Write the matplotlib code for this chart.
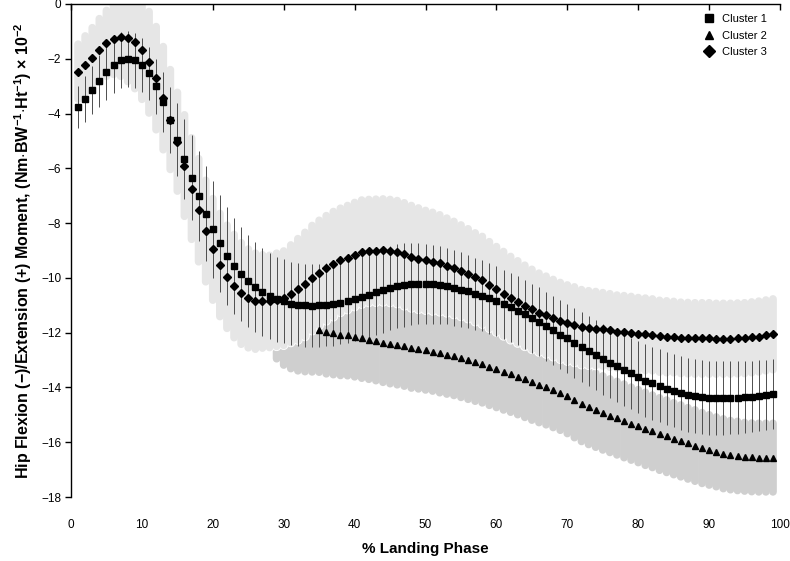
import numpy as np
import matplotlib
matplotlib.use("Agg")
import matplotlib.pyplot as plt

plt.rcParams['font.family'] = ['Liberation Sans', 'DejaVu Sans']
plt.rcParams['mathtext.fontset'] = 'custom'
plt.rcParams['mathtext.rm'] = 'Liberation Sans:bold'
plt.rcParams['mathtext.bf'] = 'Liberation Sans:bold'
plt.rcParams['mathtext.default'] = 'bf'

# ---------------- data ----------------
x13 = list(range(1, 100))          # % landing phase for clusters 1 and 3
x2_band = list(range(29, 100))     # cluster 2 SD band (partly hidden behind cluster 3 band)
x2 = list(range(35, 100))          # visible cluster 2 means

cluster1_mean = [
    -3.76, -3.47, -3.14, -2.80, -2.50, -2.23, -2.05, -2.00, -2.06, -2.23,
    -2.53, -3.01, -3.58, -4.25, -4.95, -5.66, -6.35, -7.02, -7.65, -8.23,
    -8.74, -9.21, -9.57, -9.85, -10.10, -10.34, -10.52, -10.65, -10.78, -10.85,
    -10.94, -10.98, -11.00, -11.01, -11.00, -10.98, -10.96, -10.90, -10.83, -10.76,
    -10.69, -10.61, -10.53, -10.46, -10.37, -10.31, -10.26, -10.23, -10.21, -10.21,
    -10.23, -10.25, -10.30, -10.36, -10.43, -10.49, -10.58, -10.65, -10.75, -10.85,
    -10.97, -11.08, -11.20, -11.33, -11.47, -11.60, -11.76, -11.91, -12.07, -12.21,
    -12.37, -12.53, -12.68, -12.82, -12.97, -13.10, -13.22, -13.36, -13.49, -13.63,
    -13.75, -13.85, -13.94, -14.04, -14.12, -14.20, -14.26, -14.30, -14.34, -14.37,
    -14.38, -14.38, -14.37, -14.37, -14.35, -14.33, -14.30, -14.28, -14.25]
cluster1_sd = [
    0.78, 0.85, 0.89, 0.95, 1.00, 1.02, 1.03, 1.02, 1.00, 0.98,
    0.97, 1.00, 1.08, 1.20, 1.32, 1.45, 1.55, 1.65, 1.72, 1.76,
    1.78, 1.78, 1.76, 1.72, 1.68, 1.64, 1.60, 1.57, 1.55, 1.53,
    1.52, 1.52, 1.52, 1.52, 1.52, 1.52, 1.53, 1.53, 1.54, 1.54,
    1.55, 1.55, 1.55, 1.55, 1.54, 1.53, 1.52, 1.50, 1.48, 1.46,
    1.44, 1.42, 1.40, 1.38, 1.36, 1.34, 1.32, 1.30, 1.29, 1.28,
    1.27, 1.27, 1.26, 1.26, 1.26, 1.26, 1.26, 1.26, 1.26, 1.26,
    1.27, 1.27, 1.28, 1.28, 1.29, 1.29, 1.30, 1.30, 1.31, 1.31,
    1.32, 1.32, 1.33, 1.33, 1.34, 1.34, 1.35, 1.35, 1.35, 1.35,
    1.35, 1.34, 1.33, 1.32, 1.31, 1.30, 1.29, 1.28, 1.28]

# cluster 2: x = 29..99 (means at 29-34 lie under the cluster 3 band)
cluster2_mean = [
    -12.00, -11.98, -11.96, -11.94, -11.92, -11.90,
    -11.89, -11.97, -12.02, -12.07, -12.10, -12.15, -12.21, -12.25, -12.30,
    -12.36, -12.41, -12.45, -12.50, -12.57, -12.60, -12.64, -12.69, -12.75, -12.80,
    -12.86, -12.93, -13.01, -13.08, -13.15, -13.24, -13.33, -13.42, -13.50, -13.60,
    -13.70, -13.81, -13.90, -13.99, -14.09, -14.20, -14.32, -14.47,
    -14.62, -14.73, -14.83, -14.93, -15.03, -15.12, -15.22, -15.32, -15.41, -15.51,
    -15.60, -15.70, -15.78, -15.87, -15.95, -16.04, -16.12, -16.21, -16.28, -16.35,
    -16.42, -16.47, -16.50, -16.53, -16.55, -16.56, -16.56, -16.56]
cluster2_sd = [
    0.95, 1.20, 1.35, 1.45, 1.50, 1.53,
    1.55, 1.53, 1.51, 1.49, 1.47, 1.46, 1.45, 1.45, 1.45,
    1.45, 1.45, 1.45, 1.45, 1.45, 1.45, 1.45, 1.44, 1.44, 1.44,
    1.43, 1.43, 1.42, 1.42, 1.41, 1.41, 1.40, 1.40, 1.40, 1.39,
    1.39, 1.38, 1.38, 1.37, 1.37, 1.36, 1.36, 1.36,
    1.35, 1.35, 1.35, 1.35, 1.34, 1.34, 1.34, 1.33, 1.33, 1.33,
    1.32, 1.32, 1.32, 1.31, 1.31, 1.30, 1.30, 1.29, 1.28, 1.27,
    1.27, 1.26, 1.26, 1.25, 1.25, 1.25, 1.25, 1.25]

cluster3_mean = [
    -2.47, -2.22, -1.97, -1.69, -1.44, -1.27, -1.19, -1.23, -1.39, -1.68,
    -2.13, -2.71, -3.44, -4.22, -5.03, -5.90, -6.74, -7.53, -8.29, -8.96,
    -9.53, -9.96, -10.30, -10.57, -10.75, -10.85, -10.86, -10.86, -10.80, -10.74,
    -10.58, -10.42, -10.24, -10.01, -9.82, -9.65, -9.50, -9.36, -9.26, -9.15,
    -9.06, -9.02, -9.01, -9.00, -9.02, -9.06, -9.14, -9.23, -9.30, -9.36,
    -9.41, -9.47, -9.55, -9.64, -9.74, -9.85, -9.98, -10.09, -10.26, -10.42,
    -10.58, -10.74, -10.88, -11.02, -11.15, -11.27, -11.36, -11.47, -11.57, -11.65,
    -11.71, -11.80, -11.83, -11.85, -11.88, -11.92, -11.96, -11.98, -12.00, -12.04,
    -12.06, -12.08, -12.13, -12.15, -12.16, -12.19, -12.20, -12.21, -12.21, -12.21,
    -12.22, -12.22, -12.22, -12.21, -12.20, -12.17, -12.14, -12.10, -12.06]
cluster3_sd = [
    1.00, 1.05, 1.10, 1.15, 1.20, 1.30, 1.45, 1.60, 1.70, 1.80,
    1.85, 1.88, 1.88, 1.82, 1.80, 1.85, 1.85, 1.88, 1.85, 1.85,
    1.88, 1.88, 1.88, 1.85, 1.80, 1.75, 1.70, 1.68, 1.70, 1.72,
    1.78, 1.85, 1.90, 1.92, 1.92, 1.92, 1.92, 1.90, 1.90, 1.90,
    1.90, 1.88, 1.88, 1.88, 1.88, 1.88, 1.88, 1.87, 1.85, 1.82,
    1.80, 1.77, 1.73, 1.70, 1.67, 1.64, 1.62, 1.60, 1.58, 1.56,
    1.54, 1.52, 1.50, 1.48, 1.46, 1.44, 1.42, 1.41, 1.40, 1.39,
    1.38, 1.37, 1.36, 1.35, 1.34, 1.34, 1.33, 1.33, 1.32, 1.32,
    1.32, 1.31, 1.31, 1.31, 1.30, 1.30, 1.30, 1.30, 1.30, 1.30,
    1.29, 1.29, 1.29, 1.29, 1.29, 1.29, 1.29, 1.29, 1.29]

legend_labels = ["Cluster 1", "Cluster 2", "Cluster 3"]
x_ticks = [0, 10, 20, 30, 40, 50, 60, 70, 80, 90, 100]
y_ticks = [0, -2, -4, -6, -8, -10, -12, -14, -16, -18]

# ---------------- figure ----------------
fig = plt.figure(figsize=(7.9, 5.61), dpi=100)
ax = fig.add_axes([0.0899, 0.114, 0.8975, 0.879])

c1m, c1s = np.array(cluster1_mean), np.array(cluster1_sd)
c2m, c2s = np.array(cluster2_mean), np.array(cluster2_sd)
c3m, c3s = np.array(cluster3_mean), np.array(cluster3_sd)

band_w = 5.6  # points
# cluster 2 band (darker grey) underneath
ax.vlines(x2_band, c2m - c2s, c2m + c2s, colors='#cfcfcf', linewidth=band_w,
          capstyle='round', zorder=1, snap=False)
# cluster 3 band (light grey) with thin white rim on top
ax.vlines(x13, c3m - c3s, c3m + c3s, colors='white', linewidth=band_w + 1.3,
          capstyle='round', zorder=2, snap=False)
ax.vlines(x13, c3m - c3s, c3m + c3s, colors='#e6e6e6', linewidth=band_w,
          capstyle='round', zorder=2.5, snap=False)
# cluster 1 thin SD lines
ax.vlines(x13, c1m - c1s, c1m + c1s, colors='#4d4d4d', linewidth=0.7, zorder=3)

ax.plot(x13, cluster1_mean, linestyle='none', marker='s', ms=3.7, color='black',
        label=legend_labels[0], zorder=5)
ax.plot(x2, cluster2_mean[6:], linestyle='none', marker='^', ms=4.2, color='black',
        label=legend_labels[1], zorder=5)
ax.plot(x13, cluster3_mean, linestyle='none', marker='D', ms=3.8, color='black',
        label=legend_labels[2], zorder=5)

ax.set_xlim(0, 100)
ax.set_ylim(-18, 0)
ax.set_xticks(x_ticks)
ax.set_yticks(y_ticks)
ax.set_yticklabels([('\u2212%d' % abs(v)) if v < 0 else '%d' % v for v in y_ticks])

for s in ['bottom', 'right']:
    ax.spines[s].set_visible(False)
for s in ['top', 'left']:
    ax.spines[s].set_linewidth(1.0)
    ax.spines[s].set_zorder(6)

ax.tick_params(axis='x', top=True, bottom=False, labeltop=False, labelbottom=True,
               direction='in', length=4, width=1.0, pad=16, labelsize=8.5)
ax.tick_params(axis='y', left=True, right=False, direction='out', length=4,
               width=1.0, pad=3, labelsize=8.5)

ax.set_xlabel('% Landing Phase', fontsize=11, fontweight='bold', labelpad=8)
ax.set_ylabel(r'Hip Flexion (−)/Extension (+) Moment, (Nm$\cdot$BW$^{-1}$$\cdot$Ht$^{-1}$) $\times$ 10$^{-2}$',
              fontsize=11.5, fontweight='bold', labelpad=5)

leg = ax.legend(loc='upper right', bbox_to_anchor=(0.992, 0.995), frameon=False,
                fontsize=8, handlelength=0.8, handletextpad=0.7,
                labelspacing=0.58, markerscale=1.5, borderaxespad=0.3)

fig.savefig('out.png', dpi=100)
